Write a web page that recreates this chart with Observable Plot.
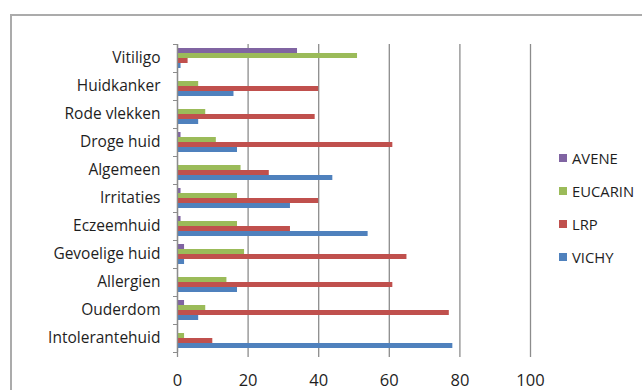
<!DOCTYPE html>
<html>
<head>
<meta charset="utf-8">
<script src="https://cdn.jsdelivr.net/npm/d3@7"></script>
<script src="https://cdn.jsdelivr.net/npm/@observablehq/plot@0.6"></script>
<style>
  html, body { margin: 0; padding: 0; background: #fff; overflow: hidden; }
  #wrap { position: relative; width: 642px; height: 390px; overflow: hidden; font-family: "Open Sans", Lato, sans-serif; color: #1e1e1e; }
  #box { position: absolute; left: 10px; top: 14px; width: 700px; height: 500px; border: 2px solid #ababab; box-sizing: border-box; }
  #chart { position: absolute; left: 0; top: 0; }
  #legend { position: absolute; left: 559px; top: 148px; font-size: 14.8px; }
  #legend .row { display: flex; align-items: center; height: 20px; margin-bottom: 13px; }
  #legend .sw { width: 8px; height: 8px; margin-right: 5px; }
</style>
</head>
<body>
<div id="wrap">
  <div id="box"></div>
  <div id="chart"></div>
  <div id="legend"></div>
</div>
<script>
// Skin concerns, top to bottom
const categories = ["Vitiligo", "Huidkanker", "Rode vlekken", "Droge huid", "Algemeen", "Irritaties",
  "Eczeemhuid", "Gevoelige huid", "Allergien", "Ouderdom", "Intolerantehuid"];

// Brands, in the order their bars are stacked within each group
const brands = ["AVENE", "EUCARIN", "LRP", "VICHY"];
const brandColors = ["#8064A2", "#9BBB59", "#C0504D", "#4F81BD"];

// Scores per brand, one value per category
const AVENE   = [34, 0, 0, 1, 0, 1, 1, 2, 0, 2, 0];
const EUCARIN = [51, 6, 8, 11, 18, 17, 17, 19, 14, 8, 2];
const LRP     = [3, 40, 39, 61, 26, 40, 32, 65, 61, 77, 10];
const VICHY   = [1, 16, 6, 17, 44, 32, 54, 2, 17, 6, 78];

const xTicks = [0, 20, 40, 60, 80, 100];

const series = {AVENE, EUCARIN, LRP, VICHY};
const rows = categories.flatMap((category, i) =>
  brands.map(brand => ({category, brand, value: series[brand][i]})));

const W = 642, H = 390;
const mTop = 44, mBottom = 38;
const step = (H - mTop - mBottom) / categories.length;
const gridColor = "#8c8c8c";

const chart = Plot.plot({
  width: W,
  height: H,
  marginLeft: 177,
  marginRight: 112,
  marginTop: mTop,
  marginBottom: mBottom,
  style: {fontFamily: "'Open Sans', Lato, sans-serif", background: "transparent", color: "#1e1e1e"},
  x: {domain: [0, 100], axis: null},
  y: {domain: brands, paddingInner: 0, paddingOuter: 0.75, axis: null},
  fy: {domain: categories, padding: 0, axis: null},
  color: {domain: brands, range: brandColors},
  marks: [
    Plot.gridX(xTicks, {stroke: gridColor, strokeOpacity: 1, strokeWidth: 1.3}),
    Plot.barX(rows, {x: "value", y: "brand", fy: "category", fill: "brand"}),
    Plot.ruleX([0], {stroke: gridColor, strokeWidth: 1.3}),
    Plot.axisX({anchor: "top", ticks: [], tickSize: 0, line: true, stroke: gridColor, strokeWidth: 1.3, label: null}),
    Plot.axisX({anchor: "bottom", ticks: xTicks, tickSize: 5, tickPadding: 16.5, line: true,
      stroke: gridColor, strokeWidth: 1.3, fill: "#1e1e1e", fontSize: 16.5, label: null}),
    Plot.axisFy({anchor: "left", tickSize: 0, tickPadding: 17, fontSize: 15.5, fill: "#1e1e1e", label: null}),
    Plot.axisFy({anchor: "left", tickSize: 4, tickFormat: () => "", stroke: gridColor, dy: -step / 2, label: null}),
    Plot.axisFy({anchor: "left", tickSize: 4, tickFormat: () => "", stroke: gridColor, dy: step / 2, label: null})
  ]
});
document.getElementById("chart").append(chart);

// Legend: one swatch per brand, stacked vertically
const legend = document.getElementById("legend");
brands.forEach((b, i) => {
  const row = document.createElement("div");
  row.className = "row";
  const sw = document.createElement("span");
  sw.className = "sw";
  sw.style.background = brandColors[i];
  const label = document.createElement("span");
  label.textContent = b;
  row.append(sw, label);
  legend.append(row);
});
</script>
</body>
</html>
